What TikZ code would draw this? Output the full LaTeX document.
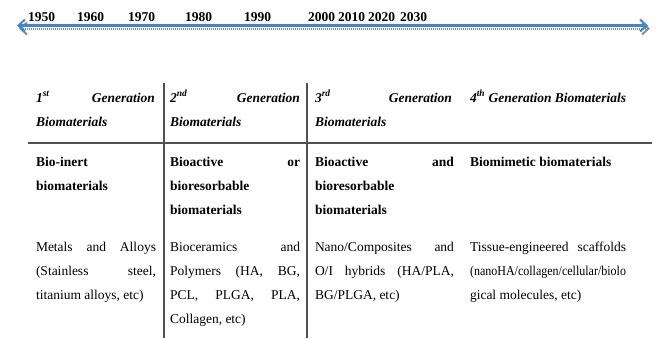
\documentclass[tikz,border=0pt]{standalone}
\usepackage{fontspec}
\setmainfont{Liberation Serif}
\usetikzlibrary{arrows.meta}
\definecolor{tlblue}{RGB}{62,136,204}
\definecolor{tlshadow}{RGB}{140,140,140}
\definecolor{rulegray}{RGB}{80,80,80}
\newcommand{\jl}[2]{\makebox[#1][s]{#2}}
\begin{document}
\begin{tikzpicture}[x=1pt,y=-1pt,
  txt/.style={anchor=base west, inner sep=0pt, outer sep=0pt, font=\fontsize{13.5}{15}\selectfont},
  hd/.style={txt, font=\fontsize{13.5}{15}\selectfont\bfseries\itshape},
  bd/.style={txt, font=\fontsize{13.5}{15}\selectfont\bfseries},
  yr/.style={anchor=base west, inner sep=0pt, outer sep=0pt, font=\fontsize{13.5}{15}\selectfont\bfseries},
  rulestyle/.style={draw=rulegray, line width=1.4pt},
  tlbarb/.tip={Straight Barb[length=6.5pt,width=12pt,line width=2pt]}]
\useasboundingbox (0,0) rectangle (659,338);
% timeline
\coordinate (shL) at (19,28.5);
\coordinate (shR) at (650,28.5);
\coordinate (tlL) at (17,25.5);
\coordinate (tlR) at (648,25.5);
\draw[tlshadow, line width=2pt, dash pattern=on 1pt off 1pt, arrows={tlbarb-tlbarb}] (shL) -- (shR);
\draw[tlblue, line width=2.4pt, arrows={tlbarb-tlbarb}] (tlL) -- (tlR);
\node[yr] (y1950) at (28,21) {1950};
\node[yr] (y1960) at (77,21) {1960};
\node[yr] (y1970) at (128,21) {1970};
\node[yr] (y1980) at (185,21) {1980};
\node[yr] (y1990) at (244,21) {1990};
\node[yr] (y2000) at (308,21) {2000};
\node[yr] (y2010) at (338,21) {2010};
\node[yr] (y2020) at (368,21) {2020};
\node[yr] (y2030) at (400,21) {2030};
% rules
\coordinate (v1t) at (164,83); \coordinate (v1b) at (164,338);
\coordinate (v2t) at (307,83); \coordinate (v2b) at (307,338);
\coordinate (hL) at (28,143); \coordinate (hR) at (652,143);
\draw[rulestyle] (v1t) -- (v1b);
\draw[rulestyle] (v2t) -- (v2b);
\draw[rulestyle] (hL) -- (hR);
% column 1
\node[hd] (c1h1) at (36,102) {\jl{119pt}{1\textsuperscript{st} Generation}};
\node[hd] (c1h2) at (36,126) {Biomaterials};
\node[bd] (c1b1) at (36,166) {Bio-inert};
\node[bd] (c1b2) at (36,190) {biomaterials};
\node[txt] (c1n1) at (36,251) {\jl{120pt}{Metals and Alloys}};
\node[txt] (c1n2) at (36,275) {\jl{120pt}{(Stainless steel,}};
\node[txt] (c1n3) at (36,299) {titanium alloys, etc)};
% column 2
\node[hd] (c2h1) at (170,102) {\jl{130pt}{2\textsuperscript{nd} Generation}};
\node[hd] (c2h2) at (170,126) {Biomaterials};
\node[bd] (c2b1) at (170,166) {\jl{130pt}{Bioactive or}};
\node[bd] (c2b2) at (170,190) {bioresorbable};
\node[bd] (c2b3) at (170,214) {biomaterials};
\node[txt] (c2n1) at (170,251) {\jl{130pt}{Bioceramics and}};
\node[txt] (c2n2) at (170,275) {\jl{130pt}{Polymers (HA, BG,}};
\node[txt] (c2n3) at (170,299) {\jl{130pt}{PCL, PLGA, PLA,}};
\node[txt] (c2n4) at (170,323) {Collagen, etc)};
% column 3
\node[hd] (c3h1) at (315,102) {\jl{137pt}{3\textsuperscript{rd} Generation}};
\node[hd] (c3h2) at (315,126) {Biomaterials};
\node[bd] (c3b1) at (315,166) {\jl{139pt}{Bioactive and}};
\node[bd] (c3b2) at (315,190) {bioresorbable};
\node[bd] (c3b3) at (315,214) {biomaterials};
\node[txt] (c3n1) at (315,251) {\jl{139pt}{Nano/Composites and}};
\node[txt] (c3n2) at (315,275) {\jl{139pt}{O/I hybrids (HA/PLA,}};
\node[txt] (c3n3) at (315,299) {BG/PLGA, etc)};
% column 4
\node[hd] (c4h1) at (470,102) {4\textsuperscript{th} Generation Biomaterials};
\node[bd] (c4b1) at (470,166) {Biomimetic biomaterials};
\node[txt] (c4n1) at (470,251) {\jl{156pt}{Tissue-engineered scaffolds}};
\node[txt] (c4n2) at (470,275) {\resizebox{156pt}{\height}{(nanoHA/collagen/cellular/biolo}};
\node[txt] (c4n3) at (470,299) {gical molecules, etc)};
\end{tikzpicture}
\end{document}
